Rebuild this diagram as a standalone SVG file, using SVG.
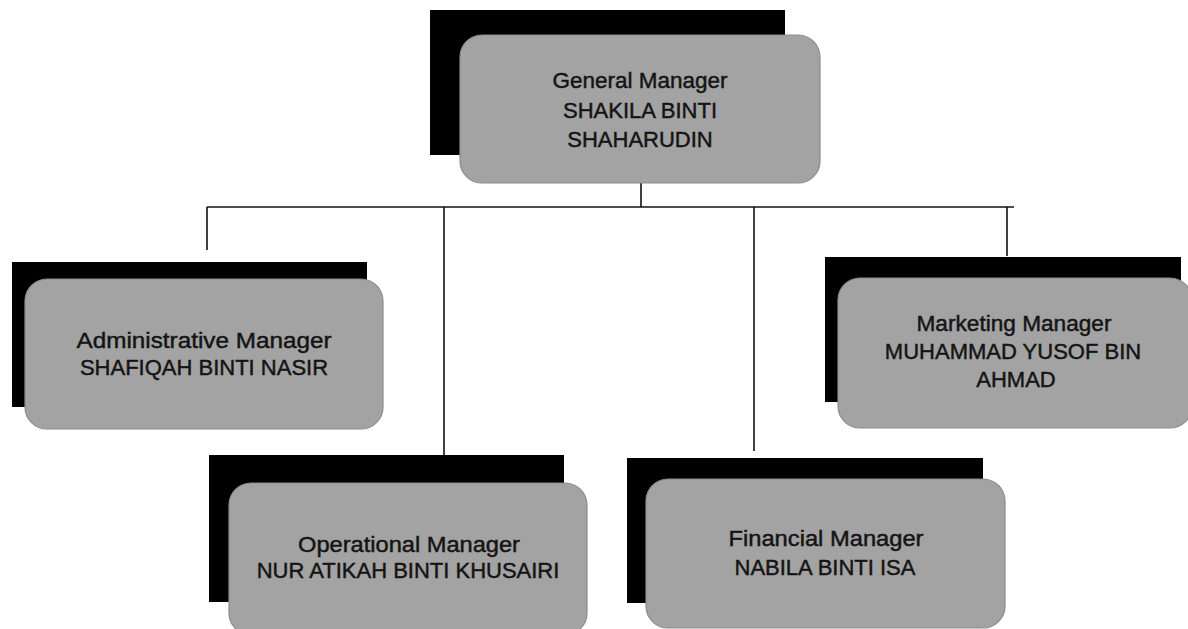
<svg xmlns="http://www.w3.org/2000/svg" width="1188" height="629" viewBox="0 0 1188 629">
<style>
.sh{fill:#000}
.bx{fill:#a3a3a3;stroke:#8c8c8c;stroke-width:1.2}
.t{font-family:"Liberation Sans",Arial,sans-serif;font-size:22px;fill:#141414;stroke:#141414;stroke-width:0.45;text-anchor:middle}
.c{stroke:#111;stroke-width:1.6;fill:none}
</style>
<rect width="1188" height="629" fill="#fff"/>
<g id="connectors">
<line class="c" x1="641" y1="183" x2="641" y2="207"/>
<line class="c" x1="207" y1="207" x2="1014" y2="207"/>
<line class="c" x1="207" y1="207" x2="207" y2="250"/>
<line class="c" x1="444" y1="207" x2="444" y2="455"/>
<line class="c" x1="754" y1="207" x2="754" y2="451"/>
<line class="c" x1="1007" y1="207" x2="1007" y2="256"/>
</g>
<g id="general-manager">
<rect class="sh" x="430" y="10" width="355" height="145"/>
<rect class="bx" x="460" y="35" width="360" height="148" rx="22"/>
<text class="t" x="640" y="88" textLength="175" lengthAdjust="spacingAndGlyphs">General Manager</text>
<text class="t" x="640" y="118">SHAKILA BINTI</text>
<text class="t" x="640" y="147">SHAHARUDIN</text>
</g>
<g id="administrative-manager">
<rect class="sh" x="12" y="262" width="355" height="145"/>
<rect class="bx" x="25" y="279" width="358" height="150" rx="22"/>
<text class="t" x="204" y="348" textLength="255" lengthAdjust="spacingAndGlyphs">Administrative Manager</text>
<text class="t" x="204" y="375">SHAFIQAH BINTI NASIR</text>
</g>
<g id="marketing-manager">
<rect class="sh" x="825" y="257" width="356" height="145"/>
<rect class="bx" x="838" y="278" width="354" height="150" rx="22"/>
<text class="t" x="1014" y="331" textLength="195" lengthAdjust="spacingAndGlyphs">Marketing Manager</text>
<text class="t" x="1013" y="359">MUHAMMAD YUSOF BIN</text>
<text class="t" x="1016" y="387">AHMAD</text>
</g>
<g id="operational-manager">
<rect class="sh" x="209" y="455" width="355" height="147"/>
<rect class="bx" x="229" y="483" width="358" height="152" rx="22"/>
<text class="t" x="409" y="552" textLength="222" lengthAdjust="spacingAndGlyphs">Operational Manager</text>
<text class="t" x="408" y="578">NUR ATIKAH BINTI KHUSAIRI</text>
</g>
<g id="financial-manager">
<rect class="sh" x="627" y="458" width="356" height="145"/>
<rect class="bx" x="646" y="479" width="359" height="149" rx="22"/>
<text class="t" x="826" y="546" textLength="195" lengthAdjust="spacingAndGlyphs">Financial Manager</text>
<text class="t" x="825" y="575">NABILA BINTI ISA</text>
</g>
</svg>
